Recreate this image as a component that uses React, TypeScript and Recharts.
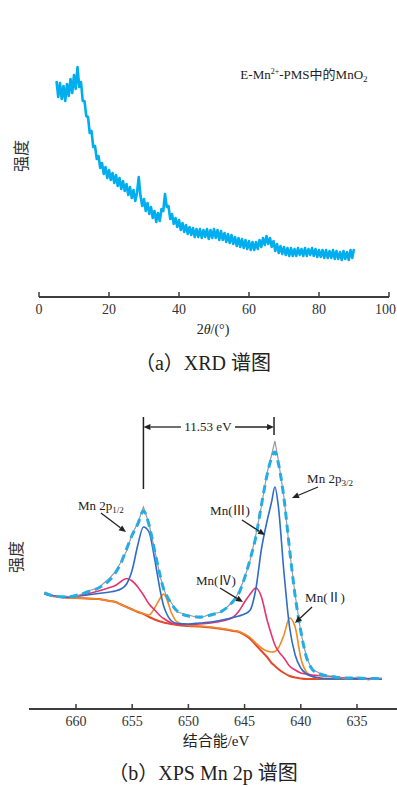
import { Line, LineChart, ReferenceDot, ReferenceLine, XAxis, YAxis } from "recharts"

const SERIF = '"Liberation Serif", "Noto Sans CJK SC", serif'
const CJK = '"Noto Sans CJK SC", sans-serif'
const AXIS = "#3d3d3d"
const INK = "#222"
const PAGE_W = 397

// (a) XRD scan, 2θ from 5° to 90° in 0.5° steps
const xrdStart = 5
const xrdStep = 0.5
const xrdIntensity = [
  216, 200, 214, 198, 211, 196, 213, 201, 218, 204,
  222, 208, 230, 210, 215, 196, 196, 181, 180, 164,
  166, 150, 151, 138, 141, 129, 134, 123, 130, 119,
  127, 117, 124, 114, 122, 111, 119, 108, 116, 106,
  113, 102, 110, 99, 107, 96, 104, 120, 101, 91,
  98, 86, 94, 83, 90, 79, 86, 75, 84, 76,
  88, 86, 103, 90, 91, 78, 83, 73, 79, 70,
  77, 67, 74, 65, 72, 63, 70, 62, 69, 60,
  68, 60, 68, 59, 67, 60, 68, 58, 67, 59,
  68, 59, 67, 57, 66, 57, 64, 55, 63, 54,
  62, 53, 60, 51, 59, 50, 58, 49, 57, 48,
  56, 47, 55, 47, 55, 48, 57, 50, 59, 52,
  61, 53, 59, 50, 56, 46, 53, 44, 51, 43,
  50, 42, 49, 41, 49, 41, 48, 41, 49, 42,
  48, 41, 49, 41, 48, 42, 49, 41, 48, 40,
  47, 40, 47, 39, 47, 39, 46, 39, 47, 38,
  46, 38, 45, 37, 46, 38, 45, 37, 47, 39,
  48,
]
const xrdTicks = [0, 20, 40, 60, 80, 100]

// (b) XPS Mn 2p, binding energy in eV
const xpsEnergy = [
  662.8, 662, 661, 660, 659, 658, 657, 656.5, 656, 655.5, 655, 654.5, 654, 653.5, 653, 652.5,
  652.2, 652, 651.5, 651, 650, 649, 648, 647, 646, 645.5, 645, 644.5, 644, 643.5, 643, 642.6,
  642.3, 642, 641.5, 641, 640.5, 640, 639.5, 639, 638.5, 638, 637, 636, 635, 634, 632.8,
]
const xpsRaw = [
  117, 112, 113, 112, 118, 121, 131, 137, 147, 158, 175, 186, 202, 185, 159, 132,
  121, 114, 106, 97, 94, 91, 95, 97, 108, 117, 131, 149, 174, 203, 236, 254,
  268, 249, 212, 159, 114, 77, 52, 39, 37, 33, 33, 30, 32, 29, 31,
]
const xpsFit = [
  116, 113, 112, 113.5, 117, 121, 129, 136, 146, 160, 174, 185, 198, 184, 158, 133,
  120, 115, 105, 98, 93, 92, 94, 98, 108, 116, 131, 150, 172, 204, 234, 251,
  257, 246, 211, 160, 113, 78, 52, 40, 36, 34, 32, 31, 31, 30.5, 30.5,
]
const mn3 = [
  115, 113, 112, 112.5, 114, 115.5, 117, 118, 120, 125, 139, 164, 182, 177, 150, 118,
  103, 97, 88, 85.5, 85, 86, 87, 89, 91.5, 93, 95, 99, 120, 160, 188, 207,
  222, 203, 137, 82, 54, 41, 35, 32.5, 31.5, 30.5, 30, 30, 30, 30, 30,
]
const mn4 = [
  115, 113, 112, 113, 115, 118, 121.5, 123.5, 127.5, 130.5, 128, 122, 114, 105, 99, 93,
  90.5, 89, 86, 85, 84.5, 85, 86, 88, 92, 98, 107, 115, 121, 112, 89, 74,
  64, 58, 51, 43, 39, 36, 35, 34, 33.5, 33, 32, 31, 30.5, 30.5, 30.5,
]
const mn2 = [
  116, 113, 111.5, 111, 110.5, 110, 108, 107, 104.5, 102, 99.5, 97.5, 95.5, 94, 101, 111,
  115, 112, 96, 87, 83.5, 83, 82, 80.5, 78.5, 77.5, 75, 71.5, 66, 61, 58, 57,
  57.5, 61, 74, 91, 82, 51, 37, 33, 31, 30.5, 30, 30, 30, 30, 30,
]
const xpsBackground = [
  116, 113, 111.5, 111, 110.5, 110, 108, 107, 104.5, 102, 99.5, 97, 95, 92, 89.5, 87.5,
  86.5, 86, 85, 84, 83, 82.5, 81.5, 80, 78, 77, 74, 70, 64, 58, 52, 46,
  43, 40, 36, 33, 31.5, 30.5, 30, 30, 30, 30, 30, 30, 30, 30, 30,
]
const xpsTicks = [660, 655, 650, 645, 640, 635]

const xrdData = xrdIntensity.map((v, i) => ({ angle: xrdStart + i * xrdStep, intensity: v }))
const xpsData = xpsEnergy.map((e, i) => ({
  energy: e,
  raw: xpsRaw[i],
  fit: xpsFit[i],
  mn3: mn3[i],
  mn4: mn4[i],
  mn2: mn2[i],
  bg: xpsBackground[i],
}))

function BottomTick(props: any) {
  const { x, y, payload } = props
  const label = String(payload.value)
  // keep the last label inside the page, as in the print
  const half = label.length * 3.5
  const tx = Math.min(x, PAGE_W - half - 1)
  return (
    <g>
      <line x1={x} y1={y} x2={x} y2={y - 5} stroke={AXIS} strokeWidth={1.5} />
      <text x={tx} y={y + 17} textAnchor="middle" fontFamily={SERIF} fontSize={14} fill="#333">
        {label}
      </text>
    </g>
  )
}

function TopTick(props: any) {
  const { x, y } = props
  return <line x1={x} y1={y} x2={x + 7} y2={y} stroke={AXIS} strokeWidth={2} />
}

function Arrow(props: any) {
  const { x1, y1, x2, y2 } = props
  const head = 7
  const a = Math.atan2(y2 - y1, x2 - x1)
  const w = 3
  const bx = x2 - head * Math.cos(a)
  const by = y2 - head * Math.sin(a)
  const pts = `${x2},${y2} ${bx + w * Math.sin(a)},${by - w * Math.cos(a)} ${bx - w * Math.sin(a)},${by + w * Math.cos(a)}`
  return (
    <g>
      <line x1={x1} y1={y1} x2={bx} y2={by} stroke={INK} strokeWidth={1.3} />
      <polygon points={pts} fill={INK} />
    </g>
  )
}

function Rule(props: any) {
  const { x1, y1, x2, y2 } = props
  return <line x1={x1} y1={y1} x2={x2} y2={y2} stroke={INK} strokeWidth={1.5} />
}

function note(content: any) {
  return (p: any) => (
    <text x={p.cx} y={p.cy} textAnchor="middle" fontFamily={SERIF} fontSize={13} fill="#222">
      {content}
    </text>
  )
}

function Caption({ cx, cy, size, children, font }: any) {
  return (
    <div
      style={{
        position: "absolute",
        left: cx - 150,
        width: 300,
        top: cy - size * 0.6,
        height: size * 1.2,
        lineHeight: `${size * 1.2}px`,
        textAlign: "center",
        fontFamily: font || SERIF,
        fontSize: size,
        color: "#222",
        whiteSpace: "nowrap",
      }}
    >
      {children}
    </div>
  )
}

function VLabel({ cx, cy }: any) {
  return (
    <div
      style={{
        position: "absolute",
        left: cx - 30,
        width: 60,
        top: cy - 12,
        height: 24,
        lineHeight: "24px",
        textAlign: "center",
        fontFamily: CJK,
        fontSize: 16,
        color: "#333",
        transform: "rotate(-90deg)",
      }}
    >
      强度
    </div>
  )
}

function XrdChart() {
  return (
    <div style={{ position: "absolute", left: 0, top: 0 }}>
      <LineChart width={397} height={340} data={xrdData} margin={{ top: 13, right: 8, left: 39, bottom: 0 }}>
        <XAxis
          dataKey="angle"
          type="number"
          domain={[0, 100]}
          ticks={xrdTicks}
          interval={0}
          height={43}
          tickSize={0}
          tickMargin={0}
          tickLine={false}
          tick={<BottomTick />}
          axisLine={{ stroke: AXIS, strokeWidth: 2 }}
        />
        <YAxis
          type="number"
          domain={[0, 284]}
          ticks={[284]}
          width={0}
          tickSize={0}
          tickMargin={0}
          tickLine={false}
          tick={<TopTick />}
          axisLine={{ stroke: AXIS, strokeWidth: 2 }}
        />
        <Line
          dataKey="intensity"
          type="linear"
          stroke="#00adef"
          strokeWidth={2.6}
          strokeLinejoin="round"
          dot={false}
          activeDot={false}
          isAnimationActive={false}
        />
        <ReferenceDot
          x={75.7}
          y={218}
          shape={note(
            <>
              E-Mn<tspan fontSize={8} dy={-5}>2+</tspan>
              <tspan dy={5}>-PMS中的MnO</tspan>
              <tspan fontSize={9} dy={3}>2</tspan>
            </>
          )}
        />
      </LineChart>
    </div>
  )
}

function XpsChart() {
  const common = { dot: false, activeDot: false, isAnimationActive: false, type: "monotone" as const }
  return (
    <div style={{ position: "absolute", left: 0, top: 395 }}>
      <LineChart width={397} height={392} data={xpsData} margin={{ top: 10, right: 0, left: 29, bottom: 0 }}>
        <XAxis
          dataKey="energy"
          type="number"
          domain={[631.44, 664.18]}
          reversed
          allowDataOverflow
          ticks={xpsTicks}
          interval={0}
          height={78}
          tickSize={0}
          tickMargin={0}
          tickLine={false}
          tick={<BottomTick />}
          axisLine={{ stroke: AXIS, strokeWidth: 2 }}
        />
        <YAxis
          type="number"
          domain={[0, 304]}
          ticks={[304]}
          width={0}
          tickSize={0}
          tickMargin={0}
          tickLine={false}
          tick={<TopTick />}
          axisLine={{ stroke: AXIS, strokeWidth: 2 }}
        />
        <Line dataKey="bg" stroke="#e4492b" strokeWidth={2} {...common} />
        <Line dataKey="mn2" stroke="#f08a24" strokeWidth={1.6} {...common} />
        <Line dataKey="mn4" stroke="#e6336f" strokeWidth={1.6} {...common} />
        <Line dataKey="mn3" stroke="#2f6cc6" strokeWidth={1.6} {...common} />
        <Line dataKey="raw" stroke="#9a9a9a" strokeWidth={1.2} {...common} type="linear" />
        <Line dataKey="fit" stroke="#23ace6" strokeWidth={3} strokeDasharray="8 5" {...common} />

        <ReferenceLine segment={[{ x: 654.0, y: 220 }, { x: 654.0, y: 292 }]} shape={<Rule />} />
        <ReferenceLine segment={[{ x: 642.38, y: 274 }, { x: 642.38, y: 292 }]} shape={<Rule />} />
        <ReferenceLine segment={[{ x: 650.66, y: 282 }, { x: 654.0, y: 282 }]} shape={<Arrow />} />
        <ReferenceLine segment={[{ x: 645.85, y: 282 }, { x: 642.38, y: 282 }]} shape={<Arrow />} />
        <ReferenceDot x={648.26} y={278} shape={note("11.53 eV")} />

        <ReferenceLine segment={[{ x: 657.78, y: 196 }, { x: 655.55, y: 177 }]} shape={<Arrow />} />
        <ReferenceDot
          x={657.78}
          y={199}
          shape={note(
            <>
              Mn 2p<tspan fontSize={9} dy={3}>1/2</tspan>
            </>
          )}
        />
        <ReferenceLine segment={[{ x: 638.47, y: 222 }, { x: 640.78, y: 211 }]} shape={<Arrow />} />
        <ReferenceDot
          x={637.4}
          y={226}
          shape={note(
            <>
              Mn 2p<tspan fontSize={9} dy={3}>3/2</tspan>
            </>
          )}
        />
        <ReferenceLine segment={[{ x: 645.23, y: 189 }, { x: 643.18, y: 174 }]} shape={<Arrow />} />
        <ReferenceDot x={646.3} y={194} shape={note("Mn(Ⅲ)")} />
        <ReferenceLine segment={[{ x: 647.19, y: 121 }, { x: 645.14, y: 107 }]} shape={<Arrow />} />
        <ReferenceDot x={647.55} y={124} shape={note("Mn(Ⅳ)")} />
        <ReferenceLine segment={[{ x: 639.0, y: 102 }, { x: 640.52, y: 86 }]} shape={<Arrow />} />
        <ReferenceDot x={637.85} y={107} shape={note("Mn(Ⅱ)")} />
      </LineChart>
    </div>
  )
}

export default function App() {
  return (
    <div style={{ position: "absolute", left: 0, top: 0, width: 397, height: 787, background: "#fff", overflow: "hidden" }}>
      <XrdChart />
      <VLabel cx={20} cy={156} />
      <Caption cx={213} cy={330} size={14}>
        2<i>θ</i>/(°)
      </Caption>
      <Caption cx={203} cy={363} size={20}>
        （a）XRD 谱图
      </Caption>

      <XpsChart />
      <VLabel cx={15} cy={557} />
      <Caption cx={216} cy={740} size={15}>
        <span style={{ fontFamily: CJK }}>结合能</span>/eV
      </Caption>
      <Caption cx={203} cy={773} size={20}>
        （b）XPS Mn 2p 谱图
      </Caption>
    </div>
  )
}
